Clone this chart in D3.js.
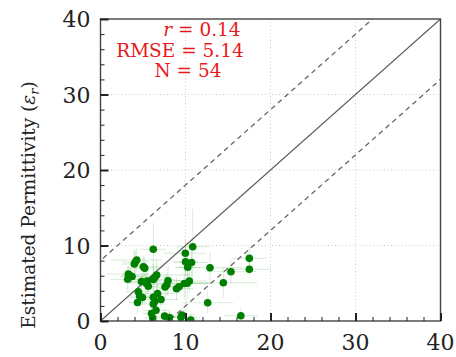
<!DOCTYPE html>
<html>
<head>
<meta charset="utf-8">
<script src="https://cdn.jsdelivr.net/npm/d3@7"></script>
<style>
  html, body { margin: 0; padding: 0; background: #fff; }
  svg { display: block; }
</style>
</head>
<body>
<div id="chart"></div>
<script>
// Measured vs. estimated permittivity, with uncertainty bars
const measured = [
  6.21, 10.85, 9.98, 4.26, 3.98, 5.04, 10.0, 10.71, 10.26, 12.88,
  17.51, 17.51, 15.35, 14.45, 3.27, 3.71, 3.20, 6.61, 6.21, 4.82,
  5.35, 5.62, 7.94, 7.59, 10.45, 9.86, 9.24, 8.94, 4.45, 6.71,
  6.21, 4.94, 4.35, 7.12, 6.21, 12.61, 6.53, 16.51, 6.14, 7.55,
  8.12, 9.47, 10.62, 5.5, 6.4, 3.5, 4.6, 6.0, 7.8, 10.2,
  4.1, 6.4, 9.6, 5.2
];
const estimated = [
  9.50, 9.84, 8.97, 8.08, 7.55, 7.19, 7.85, 7.75, 7.11, 7.06,
  8.30, 6.85, 6.53, 5.07, 6.23, 5.89, 5.52, 6.09, 5.50, 5.23,
  5.03, 4.60, 5.34, 4.50, 5.30, 4.97, 4.54, 4.28, 3.87, 3.64,
  3.14, 3.11, 2.45, 2.85, 2.25, 2.42, 1.42, 0.69, 0.40, 0.64,
  0.46, 0.49, 0.11, 5.3, 5.8, 6.0, 3.3, 1.0, 4.8, 5.0,
  7.8, 2.6, 0.8, 7.0
];
const measuredErr = [
  1.5, 2, 2.5, 3, 1.5, 2, 1.5, 2, 1.5, 4,
  2, 2.5, 3, 4, 2.5, 1.5, 2, 4, 2.5, 1.5,
  2, 1, 2, 1.5, 2, 3, 1.5, 2, 1.5, 2,
  1, 1.5, 1, 2, 1.5, 3, 1.5, 2, 1, 1.5,
  1, 2, 1.5, 1.5, 2, 1, 1.5, 1, 2, 2.5,
  1.5, 1, 1.5, 2
];
const estimatedErr = [
  3.5, 5, 2, 1.5, 2, 1.5, 2, 2.5, 1.5, 2,
  1.5, 1, 1.5, 2, 1, 1, 1.5, 2, 2, 1,
  1.5, 1, 2, 1.5, 1.5, 2, 1, 1.5, 1, 2,
  1.5, 1, 1.5, 1, 1, 1.5, 2, 1, 1, 1,
  1, 1, 1, 1.5, 1, 1, 1.5, 1, 1.5, 2,
  1.5, 1, 1, 1.5
];
const tickValues = [0, 10, 20, 30, 40];
const minorTickValues = d3.range(0, 41, 2);
const statLines = ["0.14", "5.14", "54"];
const bandOffset = 8;

const width = 456, height = 357;
const margin = { left: 100.5, right: 15.5, top: 19, bottom: 36 };

const svg = d3.select("#chart").append("svg")
  .attr("width", width).attr("height", height)
  .style("font-family", "'DejaVu Serif', serif");

svg.append("rect").attr("width", width).attr("height", height).attr("fill", "#fff");

const x = d3.scaleLinear().domain([0, 40]).range([margin.left, width - margin.right]);
const y = d3.scaleLinear().domain([0, 40]).range([height - margin.bottom, margin.top]);

const clipId = "plot-clip";
svg.append("clipPath").attr("id", clipId).append("rect")
  .attr("x", x(0)).attr("y", y(40))
  .attr("width", x(40) - x(0)).attr("height", y(0) - y(40));

// dotted grid
const grid = svg.append("g").attr("stroke", "#ccc").attr("stroke-width", 1)
  .attr("stroke-dasharray", "1,2.5");
[10, 20, 30].forEach(v => {
  grid.append("line").attr("x1", x(v)).attr("x2", x(v)).attr("y1", y(0)).attr("y2", y(40));
  grid.append("line").attr("x1", x(0)).attr("x2", x(40)).attr("y1", y(v)).attr("y2", y(v));
});

const plot = svg.append("g").attr("clip-path", `url(#${clipId})`);

// error bars
const data = measured.map((m, i) => ({
  m, e: estimated[i], me: measuredErr[i], ee: estimatedErr[i]
}));
const err = plot.append("g").attr("stroke", "#2e9e2e").attr("stroke-opacity", 0.2)
  .attr("stroke-width", 1);
err.selectAll("line.h").data(data).join("line").attr("class", "h")
  .attr("x1", d => x(d.m - d.me)).attr("x2", d => x(d.m + d.me))
  .attr("y1", d => y(d.e)).attr("y2", d => y(d.e));
err.selectAll("line.v").data(data).join("line").attr("class", "v")
  .attr("x1", d => x(d.m)).attr("x2", d => x(d.m))
  .attr("y1", d => y(Math.max(0, d.e - d.ee))).attr("y2", d => y(d.e + d.ee));

// 1:1 line and ±8 band
const line = d3.line().x(d => x(d[0])).y(d => y(d[1]));
plot.append("path").attr("d", line([[0, 0], [40, 40]]))
  .attr("stroke", "#555").attr("stroke-width", 1.1).attr("fill", "none");
[bandOffset, -bandOffset].forEach(o => {
  plot.append("path").attr("d", line([[-10, -10 + o], [50, 50 + o]]))
    .attr("stroke", "#666").attr("stroke-width", 1.3).attr("fill", "none")
    .attr("stroke-dasharray", "5,4");
});

// points
plot.append("g").selectAll("circle").data(data).join("circle")
  .attr("cx", d => x(d.m)).attr("cy", d => y(d.e)).attr("r", 3.8)
  .attr("fill", "#008000");

// frame
svg.append("rect").attr("x", x(0)).attr("y", y(40))
  .attr("width", x(40) - x(0)).attr("height", y(0) - y(40))
  .attr("fill", "none").attr("stroke", "#444").attr("stroke-width", 1.4);

// inward ticks on left and bottom
const xMinor = d3.axisTop(x).tickValues(minorTickValues).tickSize(4).tickFormat("");
const xMajor = d3.axisTop(x).tickValues(tickValues).tickSize(8).tickFormat("");
const yMinor = d3.axisRight(y).tickValues(minorTickValues).tickSize(4).tickFormat("");
const yMajor = d3.axisRight(y).tickValues(tickValues).tickSize(8).tickFormat("");
function styleTicks(g, w) {
  g.select(".domain").remove();
  g.selectAll(".tick line").attr("stroke", "#222").attr("stroke-width", w);
}
svg.append("g").attr("transform", `translate(0,${y(0)})`).call(xMinor).call(g => styleTicks(g, 1));
svg.append("g").attr("transform", `translate(0,${y(0)})`).call(xMajor).call(g => styleTicks(g, 2));
svg.append("g").attr("transform", `translate(${x(0)},0)`).call(yMinor).call(g => styleTicks(g, 1));
svg.append("g").attr("transform", `translate(${x(0)},0)`).call(yMajor).call(g => styleTicks(g, 2));

// tick labels
const labelFont = 22;
svg.append("g").selectAll("text").data(tickValues).join("text")
  .attr("x", d => x(d)).attr("y", y(0) + 29)
  .attr("text-anchor", "middle").attr("font-size", labelFont).attr("fill", "#222")
  .text(d => d);
svg.append("g").selectAll("text").data(tickValues).join("text")
  .attr("x", x(0) - 10).attr("y", d => y(d) + 8)
  .attr("text-anchor", "end").attr("font-size", labelFont).attr("fill", "#222")
  .text(d => d);

// y-axis title
const yt = svg.append("text")
  .attr("transform", `translate(35,${(y(0) + y(40)) / 2 + 35}) rotate(-90)`)
  .attr("text-anchor", "middle").attr("font-size", 18.5).attr("fill", "#222");
yt.append("tspan").text("Estimated Permittivity (");
yt.append("tspan").attr("font-style", "italic").text("ε");
yt.append("tspan").attr("font-style", "italic").attr("font-size", 13).attr("dy", 4).text("r");
yt.append("tspan").attr("dy", -4).text(")");

// statistics
const stats = svg.append("g").attr("fill", "#e8191b").attr("font-size", 18.5)
  .attr("text-anchor", "middle");
const t1 = stats.append("text").attr("x", 202).attr("y", 36);
t1.append("tspan").attr("font-style", "italic").text("r");
t1.append("tspan").text(" = " + statLines[0]);
stats.append("text").attr("x", 180).attr("y", 56.5).text("RMSE = " + statLines[1]);
stats.append("text").attr("x", 188).attr("y", 77).text("N = " + statLines[2]);
</script>
</body>
</html>
